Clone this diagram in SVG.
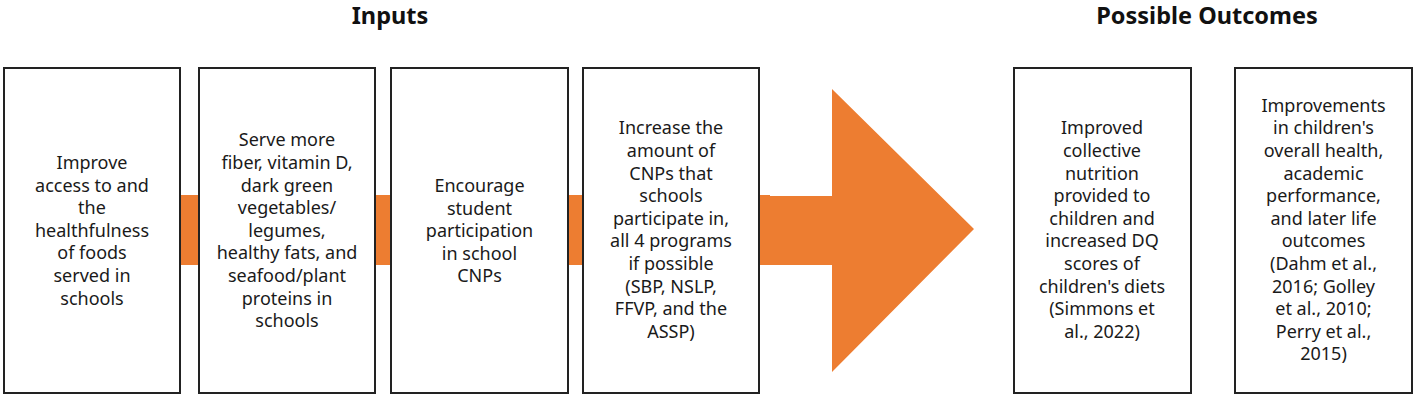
<svg xmlns="http://www.w3.org/2000/svg" width="1418" height="403" viewBox="0 0 1418 403">
<style>
.box{fill:#fff;stroke:#222;stroke-width:2}
.t{font-family:"Noto Sans","Liberation Sans",sans-serif;font-size:18px;fill:#1a1a1a;text-anchor:middle}
.h{font-family:"Noto Sans","Liberation Sans",sans-serif;font-size:23.5px;font-weight:bold;fill:#111;text-anchor:middle}
.o{fill:#ED7D31}
</style>
<rect width="1418" height="403" fill="#fff"/>
<text class="h" x="390" y="24">Inputs</text>
<text class="h" x="1207" y="24">Possible Outcomes</text>
<g id="connectors">
<rect class="o" x="170" y="195" width="600" height="70"/>
<polygon class="o" points="758,196 832,196 832,89 974,229 832,372 832,265 758,265"/>
</g>
<g id="n1">
<rect class="box" x="4" y="68" width="176" height="325"/>
<text class="t"><tspan x="92" y="169">Improve</tspan><tspan x="92" y="191.6">access to and</tspan><tspan x="92" y="214.2">the</tspan><tspan x="92" y="236.8">healthfulness</tspan><tspan x="92" y="259.4">of foods</tspan><tspan x="92" y="282">served in</tspan><tspan x="92" y="304.6">schools</tspan></text>
</g>
<g id="n2">
<rect class="box" x="199" y="68" width="176" height="325"/>
<text class="t"><tspan x="287" y="146.4">Serve more</tspan><tspan x="287" y="169">fiber, vitamin D,</tspan><tspan x="287" y="191.6">dark green</tspan><tspan x="287" y="214.2">vegetables/</tspan><tspan x="287" y="236.8">legumes,</tspan><tspan x="287" y="259.4">healthy fats, and</tspan><tspan x="287" y="282">seafood/plant</tspan><tspan x="287" y="304.6">proteins in</tspan><tspan x="287" y="327.2">schools</tspan></text>
</g>
<g id="n3">
<rect class="box" x="391" y="68" width="177" height="325"/>
<text class="t"><tspan x="479.5" y="192">Encourage</tspan><tspan x="479.5" y="214.6">student</tspan><tspan x="479.5" y="237.2">participation</tspan><tspan x="479.5" y="259.8">in school</tspan><tspan x="479.5" y="282.4">CNPs</tspan></text>
</g>
<g id="n4">
<rect class="box" x="583" y="68" width="176" height="325"/>
<text class="t"><tspan x="671" y="134.4">Increase the</tspan><tspan x="671" y="157">amount of</tspan><tspan x="671" y="179.6">CNPs that</tspan><tspan x="671" y="202.2">schools</tspan><tspan x="671" y="224.8">participate in,</tspan><tspan x="671" y="247.4">all 4 programs</tspan><tspan x="671" y="270">if possible</tspan><tspan x="671" y="292.6">(SBP, NSLP,</tspan><tspan x="671" y="315.2">FFVP, and the</tspan><tspan x="671" y="337.8">ASSP)</tspan></text>
</g>
<g id="n5">
<rect class="box" x="1014" y="68" width="177" height="325"/>
<text class="t"><tspan x="1102" y="134.4">Improved</tspan><tspan x="1102" y="157">collective</tspan><tspan x="1102" y="179.6">nutrition</tspan><tspan x="1102" y="202.2">provided to</tspan><tspan x="1102" y="224.8">children and</tspan><tspan x="1102" y="247.4">increased DQ</tspan><tspan x="1102" y="270">scores of</tspan><tspan x="1102" y="292.6">children's diets</tspan><tspan x="1102" y="315.2">(Simmons et</tspan><tspan x="1102" y="337.8">al., 2022)</tspan></text>
</g>
<g id="n6">
<rect class="box" x="1235" y="68" width="177" height="325"/>
<text class="t"><tspan x="1323.5" y="111.8">Improvements</tspan><tspan x="1323.5" y="134.4">in children's</tspan><tspan x="1323.5" y="157">overall health,</tspan><tspan x="1323.5" y="179.6">academic</tspan><tspan x="1323.5" y="202.2">performance,</tspan><tspan x="1323.5" y="224.8">and later life</tspan><tspan x="1323.5" y="247.4">outcomes</tspan><tspan x="1323.5" y="270">(Dahm et al.,</tspan><tspan x="1323.5" y="292.6">2016; Golley</tspan><tspan x="1323.5" y="315.2">et al., 2010;</tspan><tspan x="1323.5" y="337.8">Perry et al.,</tspan><tspan x="1323.5" y="360.4">2015)</tspan></text>
</g>
</svg>
